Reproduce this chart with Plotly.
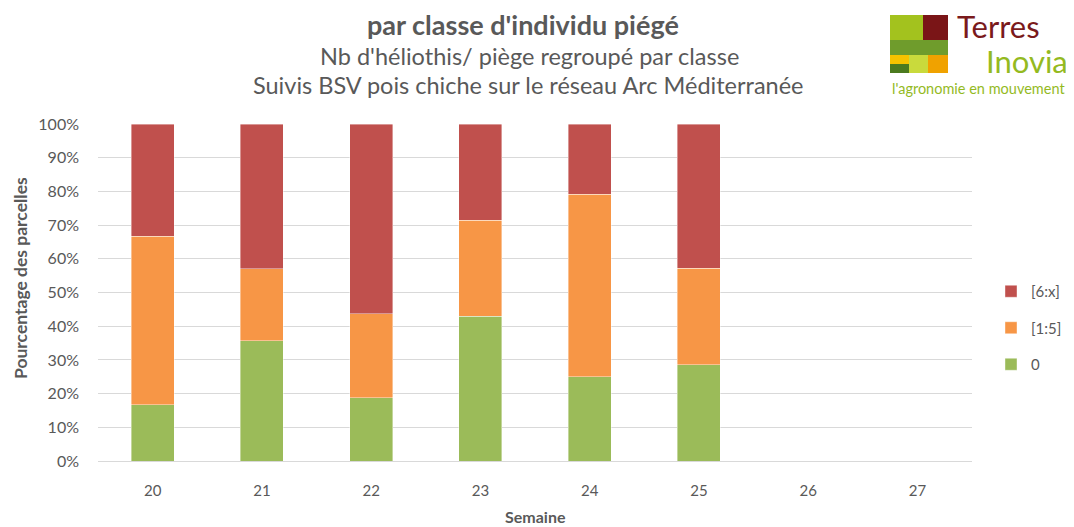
import plotly.graph_objects as go

# ---- data ----
semaines = ["20", "21", "22", "23", "24", "25", "26", "27"]
classe_0 = [16.7, 35.7, 18.75, 42.9, 25.0, 28.6, None, None]
classe_1_5 = [50.0, 21.4, 25.0, 28.6, 54.2, 28.6, None, None]
classe_6_x = [33.3, 42.9, 56.25, 28.5, 20.8, 42.8, None, None]
series_names = ["0", "[1:5]", "[6:x]"]
series_colors = ["#9bbb59", "#f79646", "#c0504d"]
legend_ranks = [3, 2, 1]
yticks = [0, 10, 20, 30, 40, 50, 60, 70, 80, 90, 100]

FONT = "Lato"
GREY = "#595959"

# the page body has an 8px margin: figure sized to the visible window
OFF = 8
W, H = 1074 - OFF, 527 - OFF
L, R, T, B = 98 - OFF, 1074 - 972, 124 - OFF, 527 - 461
PW, PH = W - L - R, H - T - B


def xp(sx):
    return (sx - OFF - L) / PW


def yp(sy):
    return (H - B - (sy - OFF)) / PH


fig = go.Figure()
for name, vals, col, rk in zip(series_names, [classe_0, classe_1_5, classe_6_x], series_colors, legend_ranks):
    fig.add_trace(go.Bar(
        x=semaines, y=vals, name=name, legendgroup=name, legendrank=rk,
        marker=dict(color=col, line=dict(color="rgba(255,255,255,0.5)", width=0.8)),
    ))

fig.update_layout(
    width=W, height=H,
    margin=dict(l=L, r=R, t=T, b=B, autoexpand=False),
    barmode="stack", bargap=0.605,
    plot_bgcolor="white", paper_bgcolor="white",
    font=dict(family=FONT, color=GREY, size=14),
    showlegend=True,
    legend=dict(
        x=xp(991), y=yp(275), xanchor="left", yanchor="top",
        traceorder="grouped", tracegroupgap=14,
        font=dict(size=15, color=GREY), itemwidth=30,
        bgcolor="rgba(0,0,0,0)",
    ),
    xaxis=dict(
        automargin=False,
        showgrid=False, showline=True, linecolor="#d9d9d9", linewidth=1,
        ticks="", tickfont=dict(size=15, color=GREY), ticklabelstandoff=16,
    ),
    yaxis=dict(
        automargin=False,
        range=[0, 100], tickvals=yticks, ticktext=[f"{v}%" for v in yticks],
        showgrid=True, gridcolor="#d9d9d9", gridwidth=1, zeroline=False,
        showline=False, ticks="", tickfont=dict(size=16, color=GREY), ticklabelstandoff=18,
    ),
)


def note(text, sx, sy, size, color=GREY, xanchor="center", angle=0):
    fig.add_annotation(text=text, x=xp(sx), y=yp(sy), xref="paper", yref="paper",
                       showarrow=False, textangle=angle, borderpad=0,
                       xanchor=xanchor, yanchor="middle",
                       font=dict(size=size, color=color, family=FONT))


# axis titles
note("<b>Pourcentage des parcelles</b>", 20, 278, 17.5, angle=-90)
note("<b>Semaine</b>", 535, 516.5, 16)

# titles
note("<b>par classe d'individu piégé</b>", 523, 25, 27)
note("Nb d'héliothis/ piège regroupé par classe", 529, 55.5, 23.5)
note("Suivis BSV pois chiche sur le réseau Arc Méditerranée", 528, 85, 23.5)

# logo blocks
logo = [
    (890, 923, 15, 40, "#a3c21e"),
    (923, 948, 15, 40, "#7a1517"),
    (890, 948, 40, 55, "#6f9c2c"),
    (890, 909, 55, 64, "#f5c300"),
    (890, 909, 64, 73, "#4b7a1f"),
    (909, 928, 55, 73, "#c9da3c"),
    (928, 948, 55, 73, "#f0a200"),
]
for x0, x1, y0, y1, c in logo:
    fig.add_shape(type="rect", xref="paper", yref="paper",
                  x0=xp(x0), x1=xp(x1), y0=yp(y1), y1=yp(y0),
                  fillcolor=c, line=dict(width=0), layer="above")
note("Terres", 956, 25.5, 31, color="#7a1a1c", xanchor="left")
note("Inovia", 1069, 61, 31, color="#94ba1f", xanchor="right")
note("l'agronomie en mouvement", 979, 88, 14.5, color="#94ba1f")

fig.write_html("out.html")
